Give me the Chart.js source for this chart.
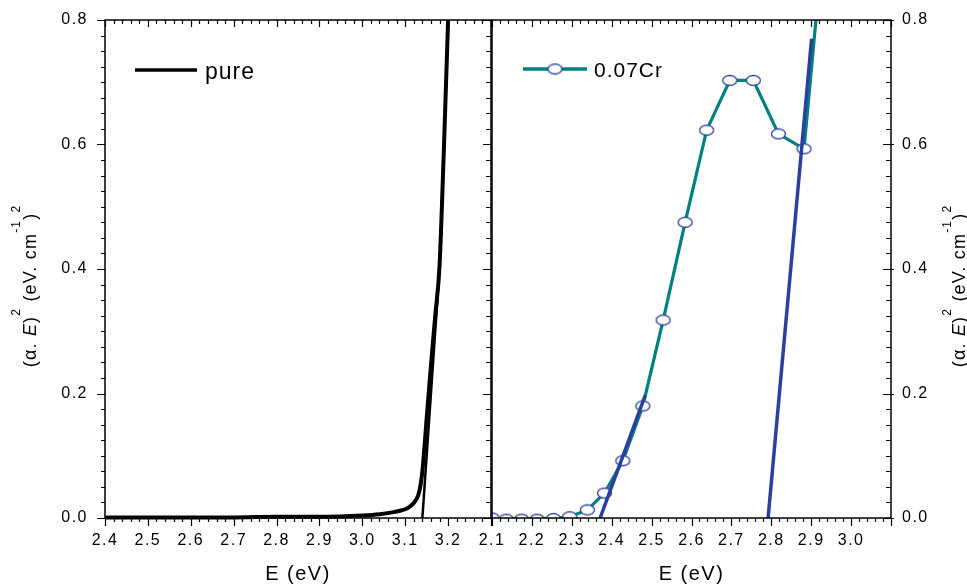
<!DOCTYPE html>
<html>
<head>
<meta charset="utf-8">
<script src="https://cdn.jsdelivr.net/npm/chart.js@4.4.1/dist/chart.umd.min.js"></script>
<style>
  html, body { margin: 0; padding: 0; background: #fff; }
  #wrap { position: relative; width: 967px; height: 585px; overflow: hidden; background: #fff; }
  canvas { position: absolute; left: 0; top: 0; }
</style>
</head>
<body>
<div id="wrap">
  <canvas id="leftChart" width="967" height="585"></canvas>
  <canvas id="rightChart" width="967" height="585"></canvas>
</div>
<script>
// ========================== DATA ==========================
// left panel : pure sample
const pureE = [2.40, 2.50, 2.60, 2.70, 2.80, 2.90, 3.00, 3.04, 3.07, 3.09, 3.10, 3.11, 3.12, 3.13, 3.135, 3.14, 3.15, 3.16, 3.17, 3.18, 3.19, 3.20, 3.205];
const pureY = [0.001, 0.001, 0.001, 0.001, 0.002, 0.002, 0.004, 0.006, 0.009, 0.012, 0.014, 0.018, 0.024, 0.036, 0.050, 0.075, 0.160, 0.245, 0.325, 0.405, 0.590, 0.800, 0.900];
// tangent on the pure curve
const pureFitE = [3.140, 3.181];
const pureFitY = [0.000, 0.411];

// right panel : 0.07Cr sample
const crE = [2.100, 2.136, 2.174, 2.213, 2.254, 2.295, 2.339, 2.382, 2.428, 2.478, 2.529, 2.584, 2.638, 2.696, 2.755, 2.818, 2.882, 2.948];
const crY = [0.000, -0.002, -0.002, -0.002, -0.001, 0.002, 0.013, 0.040, 0.092, 0.180, 0.318, 0.475, 0.623, 0.703, 0.703, 0.617, 0.593, 1.050];
// two linear fits on the 0.07Cr curve
const crFitAE = [2.371, 2.484];
const crFitAY = [0.000, 0.197];
const crFitBE = [2.792, 2.901];
const crFitBY = [0.000, 0.770];

// tick labels
const leftXTicks = [2.4, 2.5, 2.6, 2.7, 2.8, 2.9, 3.0, 3.1, 3.2];
const rightXTicks = [2.1, 2.2, 2.3, 2.4, 2.5, 2.6, 2.7, 2.8, 2.9, 3.0];
const yTicks = [0.0, 0.2, 0.4, 0.6, 0.8];

// ========================== STYLE ==========================
const FONT = "'Liberation Sans', Arial, sans-serif";
const TEAL = "#008080";
const BLUE = "#2b3f9e";
const MARK = "#2e40a0";

function pts(xs, ys) {
  return xs.map((x, i) => ({ x, y: ys[i] }));
}

// squashed open circle, like the origin marker
function ellipseMarker() {
  const c = document.createElement("canvas");
  c.width = 17; c.height = 13;
  const g = c.getContext("2d");
  g.beginPath();
  g.ellipse(8.5, 6.5, 7, 5, 0, 0, Math.PI * 2);
  g.fillStyle = "#fff";
  g.fill();
  g.lineWidth = 1.3;
  g.strokeStyle = MARK;
  g.stroke();
  return c;
}
const marker = ellipseMarker();

// ========================== PLUGINS ==========================
const spacing = {
  id: "spacing",
  beforeDraw(chart) { chart.ctx.letterSpacing = "1.5px"; }
};

// frame + major/minor ticks on all four sides
const axisFrame = {
  id: "axisFrame",
  afterDatasetsDraw(chart, args, o) {
    const { ctx, chartArea: a } = chart;
    const xs = chart.scales.x, ys = chart.scales.y;
    ctx.save();
    ctx.strokeStyle = "#000";
    ctx.lineWidth = 1.2;
    ctx.beginPath();
    const nx = Math.round((xs.max - xs.min) / 0.02);
    for (let i = 0; i <= nx; i++) {
      const px = Math.round(xs.getPixelForValue(xs.min + i * 0.02)) + 0.5;
      const major = i % 5 === 0;
      ctx.moveTo(px, a.bottom); ctx.lineTo(px, a.bottom + (major ? 8 : 4));
      ctx.moveTo(px, a.top); ctx.lineTo(px, a.top + (major ? 7 : 4));
    }
    const ny = Math.round((ys.max - ys.min) / 0.025);
    for (let i = 0; i <= ny; i++) {
      const py = Math.round(ys.getPixelForValue(ys.min + i * 0.025)) + 0.5;
      const major = i % 8 === 0;
      // left side: outward
      ctx.moveTo(a.left, py); ctx.lineTo(a.left - (major ? 8 : 4), py);
      // right side: inward (major a bit outward too)
      ctx.moveTo(a.right + (major && o.rightOut ? 3 : 0), py); ctx.lineTo(a.right - (major ? 8 : 5), py);
    }
    ctx.stroke();
    ctx.lineWidth = 1.5;
    ctx.strokeRect(a.left, a.top, a.right - a.left, a.bottom - a.top);
    ctx.restore();
  }
};

// legend entries drawn inside the plot
const legendBox = {
  id: "legendBox",
  afterDraw(chart, args, o) {
    const ctx = chart.ctx;
    ctx.save();
    ctx.strokeStyle = o.color;
    ctx.lineWidth = o.width;
    ctx.beginPath();
    ctx.moveTo(o.x1, o.y); ctx.lineTo(o.x2, o.y);
    ctx.stroke();
    if (o.marker) ctx.drawImage(marker, (o.x1 + o.x2) / 2 - 8.5, o.y - 6.5);
    ctx.fillStyle = "#000";
    ctx.letterSpacing = o.ls;
    ctx.font = o.font;
    ctx.textBaseline = "alphabetic";
    ctx.fillText(o.text, o.tx, o.ty);
    ctx.restore();
  }
};

// rotated y title with italic E and superscripts
const yTitle = {
  id: "yTitle",
  afterDraw(chart, args, o) {
    const ctx = chart.ctx;
    const main = "18px " + FONT, ital = "italic 18px " + FONT, sup = "12px " + FONT;
    const parts = [
      { t: "(\u03b1. ", f: main, dy: 0 },
      { t: "E", f: ital, dy: 0 },
      { t: ")", f: main, dy: 0 },
      { t: "2", f: sup, dy: o.sup },
      { t: " (eV. cm", f: main, dy: 0 },
      { t: "-1", f: sup, dy: o.sup },
      { t: ")", f: main, dy: 0 },
      { t: "2", f: sup, dy: o.sup }
    ];
    ctx.save();
    ctx.letterSpacing = "1.2px";
    ctx.fillStyle = "#000";
    ctx.textBaseline = "alphabetic";
    ctx.translate(o.x, o.y);
    ctx.rotate(-Math.PI / 2);
    let total = 0;
    parts.forEach(p => { ctx.font = p.f; total += ctx.measureText(p.t).width; });
    let cx = -total / 2;
    parts.forEach(p => {
      ctx.font = p.f;
      ctx.fillText(p.t, cx, p.dy);
      cx += ctx.measureText(p.t).width;
    });
    ctx.restore();
  }
};

// ========================== SHARED OPTIONS ==========================
function xScale(min, max, ticks) {
  return {
    type: "linear",
    min, max,
    afterBuildTicks: s => { s.ticks = ticks.map(v => ({ value: v })); },
    afterFit: s => { s.height = 67; },
    grid: { display: false, drawTicks: false },
    border: { display: false },
    ticks: {
      padding: 13,
      color: "#000",
      font: { family: FONT, size: 16 },
      maxRotation: 0,
      autoSkip: false,
      callback: v => Number(v).toFixed(1)
    },
    title: {
      display: true,
      text: "E (eV)",
      color: "#000",
      font: { family: FONT, size: 20, lineHeight: 1 },
      padding: { top: 0, bottom: 1 }
    }
  };
}

function yScale(position, width, pad) {
  return {
    type: "linear",
    position,
    min: 0, max: 0.8,
    afterBuildTicks: s => { s.ticks = yTicks.map(v => ({ value: v })); },
    afterFit: s => { s.width = width; },
    grid: { display: false, drawTicks: false },
    border: { display: false },
    ticks: {
      padding: pad,
      color: "#000",
      // small lineHeight keeps the label padding from pushing the plot top down
      font: { family: FONT, size: 16, lineHeight: 0.3 },
      callback: v => Number(v).toFixed(1)
    }
  };
}

const baseOptions = {
  responsive: false,
  animation: false,
  devicePixelRatio: 1,
  events: []
};

// ========================== LEFT CHART ==========================
new Chart(document.getElementById("leftChart"), {
  type: "line",
  data: {
    datasets: [
      {
        data: pts(pureFitE, pureFitY),
        borderColor: "#000", borderWidth: 2.5,
        pointRadius: 0, tension: 0, clip: 0
      },
      {
        data: pts(pureE, pureY),
        borderColor: "#000", borderWidth: 4,
        pointRadius: 0, cubicInterpolationMode: "monotone",
        clip: { left: 0, top: 0, right: 0, bottom: 3 }
      }
    ]
  },
  options: {
    ...baseOptions,
    layout: { padding: { left: 0, right: 476, top: 20, bottom: 0 } },
    scales: {
      x: xScale(2.4, 3.3, leftXTicks),
      y: yScale("left", 105, 17)
    },
    plugins: {
      legend: { display: false },
      tooltip: { enabled: false },
      axisFrame: { rightOut: false },
      legendBox: {
        x1: 135, x2: 197, y: 70, color: "#000", width: 3.5, marker: false,
        text: "pure", tx: 205, ty: 79, font: "23px " + FONT, ls: "1px"
      },
      yTitle: { x: 36, y: 286, sup: -16 }
    }
  },
  plugins: [spacing, axisFrame, legendBox, yTitle]
});

// ========================== RIGHT CHART ==========================
new Chart(document.getElementById("rightChart"), {
  type: "line",
  data: {
    datasets: [
      {
        data: pts(crFitAE, crFitAY),
        borderColor: BLUE, borderWidth: 3.5,
        pointRadius: 0, tension: 0, clip: 0
      },
      {
        data: pts(crFitBE, crFitBY),
        borderColor: BLUE, borderWidth: 3.5,
        pointRadius: 0, tension: 0, clip: 0
      },
      {
        data: pts(crE, crY),
        borderColor: TEAL, borderWidth: 3.2,
        pointStyle: marker, pointRadius: 6,
        tension: 0, clip: 0
      }
    ]
  },
  options: {
    ...baseOptions,
    layout: { padding: { left: 492, right: 0, top: 20, bottom: 0 } },
    scales: {
      x: xScale(2.1, 3.1, rightXTicks),
      y: yScale("right", 76, 11)
    },
    plugins: {
      legend: { display: false },
      tooltip: { enabled: false },
      axisFrame: { rightOut: true },
      legendBox: {
        x1: 523, x2: 587, y: 69, color: TEAL, width: 3.5, marker: true,
        text: "0.07Cr", tx: 594, ty: 77, font: "21px " + FONT, ls: "1px"
      },
      yTitle: { x: 965, y: 286, sup: -14 }
    }
  },
  plugins: [spacing, axisFrame, legendBox, yTitle]
});
</script>
</body>
</html>
